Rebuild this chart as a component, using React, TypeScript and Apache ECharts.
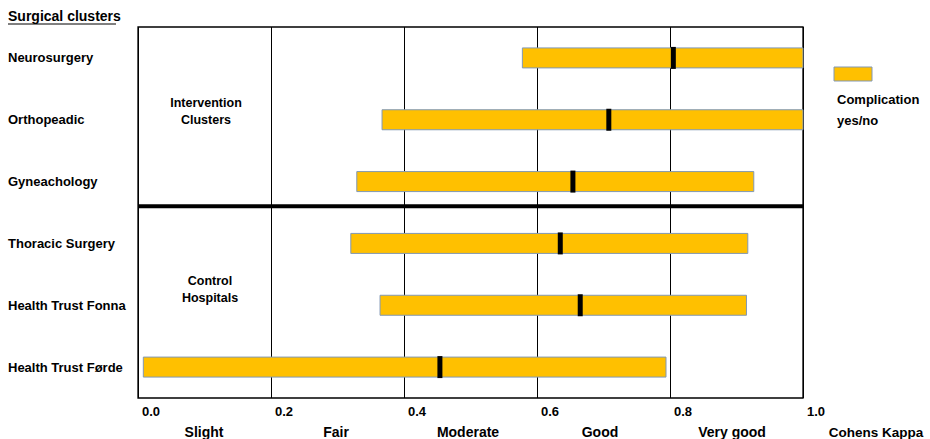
import React, { useEffect, useRef } from "react";
import * as echarts from "echarts";

const categories = [
  "Neurosurgery",
  "Orthopeadic",
  "Gyneachology",
  "Thoracic Surgery",
  "Health Trust Fonna",
  "Health Trust Førde",
];
const lowValues = [0.578, 0.367, 0.329, 0.32, 0.364, 0.008];
const highValues = [1.0, 1.0, 0.926, 0.917, 0.915, 0.794];
const kappaValues = [0.805, 0.708, 0.654, 0.635, 0.665, 0.454];
const agreementLabels = ["Slight", "Fair", "Moderate", "Good", "Very good", "Cohens Kappa"];
const separatorPosition = 2.9;
const xTicks = { min: 0, max: 1, interval: 0.2 };

const FONT = "'Liberation Sans', Arial, sans-serif";
const BAR_FILL = "#FFC000";
const BAR_STROKE = "#8198b5";

export default function App() {
  const ref = useRef<HTMLDivElement>(null);

  useEffect(() => {
    if (!ref.current) return;
    const chart = echarts.init(ref.current, undefined, { renderer: "svg" });

    const barData = categories.map((c, i) => [lowValues[i], highValues[i], kappaValues[i], i]);
    const lastLabel = agreementLabels[agreementLabels.length - 1];

    const option: any = {
      animation: false,
      textStyle: { fontFamily: FONT },
      grid: [
        { left: 138, top: 27, width: 665, height: 371, show: true, borderColor: "#000", borderWidth: 1.3, backgroundColor: "transparent" },
        { left: 138, top: 27, width: 798, height: 371, show: false },
      ],
      xAxis: [
        {
          type: "value",
          gridIndex: 0,
          min: xTicks.min,
          max: xTicks.max,
          interval: xTicks.interval,
          axisLine: { show: false },
          axisTick: { show: false },
          splitLine: { show: true, lineStyle: { color: "#000", width: 1 } },
          axisLabel: {
            formatter: (v: number) => v.toFixed(1),
            align: "left",
            margin: 7,
            padding: [0, 0, 0, 4],
            color: "#000",
            fontWeight: "bold",
            fontSize: 13,
            fontFamily: FONT,
          },
        },
        {
          type: "category",
          gridIndex: 1,
          data: agreementLabels,
          boundaryGap: true,
          axisLine: { show: false },
          axisTick: { show: false },
          splitLine: { show: false },
          axisLabel: {
            interval: 0,
            margin: 27,
            color: "#000",
            fontWeight: "bold",
            fontSize: 14,
            fontFamily: FONT,
            formatter: (v: string) => (v === lastLabel ? "{k|" + v + "}" : v),
            rich: {
              k: {
                padding: [0, 0, 0, 24],
                fontSize: 13.5,
                fontWeight: "bold",
                color: "#000",
                fontFamily: FONT,
              },
            },
          },
        },
      ],
      yAxis: [
        {
          type: "category",
          gridIndex: 0,
          data: categories,
          inverse: true,
          axisLine: { show: false },
          axisTick: { show: false },
          splitLine: { show: false },
          axisLabel: {
            align: "left",
            margin: 130,
            color: "#000",
            fontWeight: "bold",
            fontSize: 13,
            fontFamily: FONT,
          },
        },
        {
          type: "value",
          gridIndex: 0,
          min: 0,
          max: categories.length,
          inverse: true,
          show: false,
        },
        {
          type: "value",
          gridIndex: 1,
          min: 0,
          max: 1,
          show: false,
        },
      ],
      series: [
        {
          type: "line",
          xAxisIndex: 0,
          yAxisIndex: 1,
          data: [
            [xTicks.min, separatorPosition],
            [xTicks.max, separatorPosition],
          ],
          symbol: "none",
          lineStyle: { color: "#000", width: 4 },
          z: 5,
        },
        {
          type: "custom",
          xAxisIndex: 0,
          yAxisIndex: 0,
          data: barData,
          z: 10,
          renderItem: (params: any, api: any) => {
            const yi = api.value(3);
            const p1 = api.coord([api.value(0), yi]);
            const p2 = api.coord([api.value(1), yi]);
            const pm = api.coord([api.value(2), yi]);
            const h = 20;
            return {
              type: "group",
              children: [
                {
                  type: "rect",
                  shape: { x: p1[0], y: p1[1] - h / 2, width: p2[0] - p1[0], height: h },
                  style: { fill: BAR_FILL, stroke: BAR_STROKE, lineWidth: 1 },
                },
                {
                  type: "rect",
                  shape: { x: pm[0] - 2.5, y: p1[1] - h / 2 - 1, width: 5, height: h + 2 },
                  style: { fill: "#000" },
                },
              ],
            };
          },
        },
      ],
      graphic: [
        {
          type: "text",
          left: 8,
          top: 9,
          style: { text: "Surgical clusters", font: `bold 14px ${FONT}`, fill: "#000" },
        },
        {
          type: "line",
          shape: { x1: 8, y1: 24, x2: 116, y2: 24 },
          style: { stroke: "#000", lineWidth: 1 },
        },
        {
          type: "text",
          x: 206,
          y: 111,
          style: {
            text: "Intervention\nClusters",
            font: `bold 12.5px ${FONT}`,
            fill: "#000",
            align: "center",
            verticalAlign: "middle",
            lineHeight: 17,
          },
        },
        {
          type: "text",
          x: 210,
          y: 289,
          style: {
            text: "Control\nHospitals",
            font: `bold 12.5px ${FONT}`,
            fill: "#000",
            align: "center",
            verticalAlign: "middle",
            lineHeight: 17,
          },
        },
        {
          type: "rect",
          shape: { x: 834, y: 67, width: 38, height: 14 },
          style: { fill: BAR_FILL, stroke: BAR_STROKE, lineWidth: 1 },
        },
        {
          type: "text",
          x: 837,
          y: 110,
          style: {
            text: "Complication\nyes/no",
            font: `bold 13px ${FONT}`,
            fill: "#000",
            align: "left",
            verticalAlign: "middle",
            lineHeight: 21,
          },
        },
      ],
    };

    chart.setOption(option);
    return () => chart.dispose();
  }, []);

  return (
    <div
      ref={ref}
      style={{ position: "fixed", left: 0, top: 0, width: 930, height: 439, background: "#fff" }}
    />
  );
}
